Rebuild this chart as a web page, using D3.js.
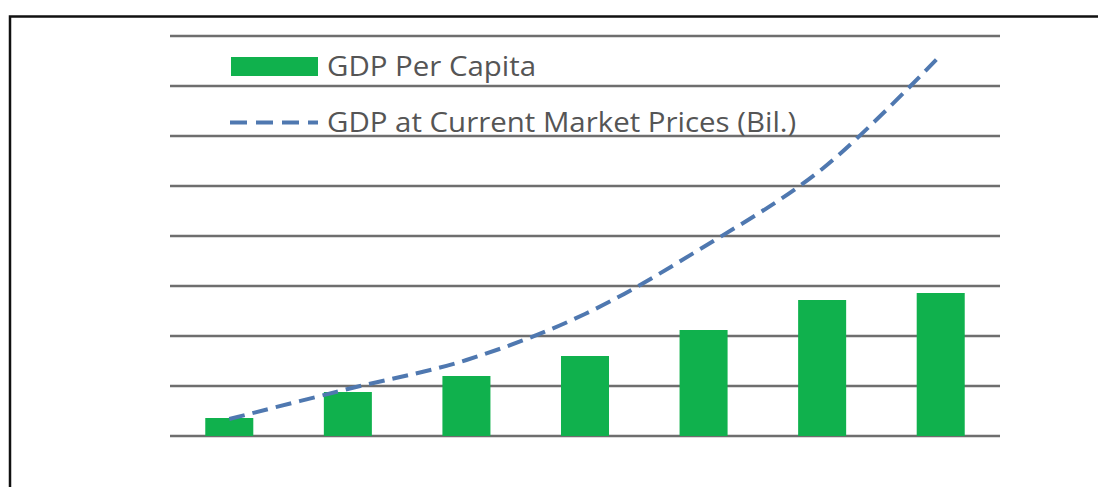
<!DOCTYPE html>
<html>
<head>
<meta charset="utf-8">
<script src="https://cdn.jsdelivr.net/npm/d3@7"></script>
<style>
  html, body { margin: 0; padding: 0; background: #fff; }
  svg { display: block; }
</style>
</head>
<body>
<svg id="chart" width="1098" height="487"></svg>
<script>
// Years shown on the category axis (labels are not printed on the chart)
const years = ["2011", "2012", "2013", "2014", "2015", "2016", "2017"];
// GDP per capita (bars)
const gdpPerCapita = [360, 880, 1200, 1600, 2120, 2720, 2860];
// GDP at current market prices, billions (dashed line)
const gdpCurrent = [340, 940, 1520, 2440, 3780, 5340, 7620];
// Gridline values
const gridTicks = [0, 1000, 2000, 3000, 4000, 5000, 6000, 7000, 8000];
// Legend entries
const legendLabels = ["GDP Per Capita", "GDP at Current Market Prices (Bil.)"];

const W = 1098, H = 487;
const plot = { left: 170, right: 1000, top: 36, bottom: 436 };
const barColor = "#10b14d";
const lineColor = "#4f78b0";
const gridColor = "#6e6e6e";
const textColor = "#555555";

const svg = d3.select("#chart");

// outer frame
svg.append("rect")
  .attr("x", 10).attr("y", 16.5)
  .attr("width", W + 20).attr("height", H + 20)
  .attr("fill", "none").attr("stroke", "#111").attr("stroke-width", 2.5);

const x = d3.scaleBand()
  .domain(years)
  .range([plot.left, plot.right])
  .paddingInner(0.595)
  .paddingOuter(0.2975);

const y = d3.scaleLinear()
  .domain([0, 8000])
  .range([plot.bottom, plot.top]);

// horizontal gridlines
svg.append("g").selectAll("line")
  .data(gridTicks)
  .join("line")
  .attr("x1", plot.left).attr("x2", plot.right)
  .attr("y1", d => y(d)).attr("y2", d => y(d))
  .attr("stroke", gridColor).attr("stroke-width", 2.5);

// bars
svg.append("g").selectAll("rect")
  .data(years)
  .join("rect")
  .attr("x", d => x(d))
  .attr("width", x.bandwidth())
  .attr("y", (d, i) => y(gdpPerCapita[i]))
  .attr("height", (d, i) => y(0) - y(gdpPerCapita[i]))
  .attr("fill", barColor);

// smoothed dashed line
const line = d3.line()
  .x((d, i) => x(years[i]) + x.bandwidth() / 2)
  .y(d => y(d))
  .curve(d3.curveCatmullRom.alpha(0.5));

svg.append("path")
  .datum(gdpCurrent)
  .attr("d", line)
  .attr("fill", "none")
  .attr("stroke", lineColor)
  .attr("stroke-width", 4)
  .attr("stroke-dasharray", "16,8");

// legend
const legend = svg.append("g");
legend.append("rect")
  .attr("x", 231).attr("y", 57)
  .attr("width", 87).attr("height", 19)
  .attr("fill", barColor);
legend.append("line")
  .attr("x1", 230).attr("x2", 318)
  .attr("y1", 122.5).attr("y2", 122.5)
  .attr("stroke", lineColor).attr("stroke-width", 4)
  .attr("stroke-dasharray", "17,9");

legend.selectAll("text")
  .data(legendLabels)
  .join("text")
  .attr("transform", (d, i) => `translate(327,${i === 0 ? 76 : 132}) scale(1.09,1)`)
  .attr("fill", textColor)
  .attr("font-family", "'Open Sans', sans-serif")
  .attr("font-size", 27)
  .text(d => d);
</script>
</body>
</html>
